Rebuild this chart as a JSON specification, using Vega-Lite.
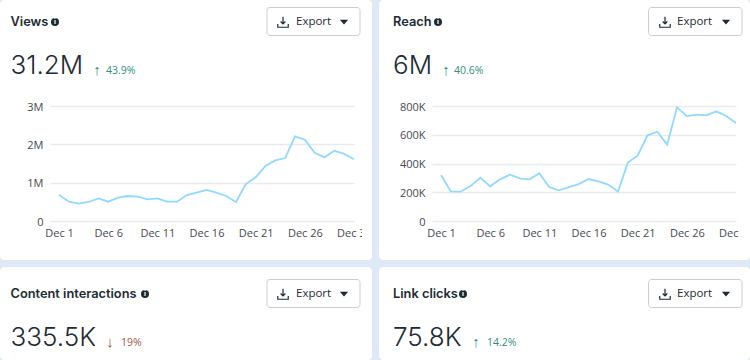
{
"$schema":"https://vega.github.io/schema/vega-lite/v6.json",
"padding":0,
"autosize":{"type":"pad"},
"background":"#dde9f7",
"config":{"view":{"stroke":null},"concat":{"spacing":7}},
"datasets":{
"views":[{"day":"2024-12-01T00:00:00","v":687000},{"day":"2024-12-02T00:00:00","v":504000},{"day":"2024-12-03T00:00:00","v":452000},{"day":"2024-12-04T00:00:00","v":496000},{"day":"2024-12-05T00:00:00","v":590000},{"day":"2024-12-06T00:00:00","v":504000},{"day":"2024-12-07T00:00:00","v":610000},{"day":"2024-12-08T00:00:00","v":652000},{"day":"2024-12-09T00:00:00","v":635000},{"day":"2024-12-10T00:00:00","v":565000},{"day":"2024-12-11T00:00:00","v":590000},{"day":"2024-12-12T00:00:00","v":504000},{"day":"2024-12-13T00:00:00","v":504000},{"day":"2024-12-14T00:00:00","v":678000},{"day":"2024-12-15T00:00:00","v":740000},{"day":"2024-12-16T00:00:00","v":809000},{"day":"2024-12-17T00:00:00","v":740000},{"day":"2024-12-18T00:00:00","v":652000},{"day":"2024-12-19T00:00:00","v":496000},{"day":"2024-12-20T00:00:00","v":965000},{"day":"2024-12-21T00:00:00","v":1140000},{"day":"2024-12-22T00:00:00","v":1435000},{"day":"2024-12-23T00:00:00","v":1580000},{"day":"2024-12-24T00:00:00","v":1643000},{"day":"2024-12-25T00:00:00","v":2210000},{"day":"2024-12-26T00:00:00","v":2120000},{"day":"2024-12-27T00:00:00","v":1780000},{"day":"2024-12-28T00:00:00","v":1660000},{"day":"2024-12-29T00:00:00","v":1835000},{"day":"2024-12-30T00:00:00","v":1750000},{"day":"2024-12-31T00:00:00","v":1610000}],
"reach":[{"day":"2024-12-01T00:00:00","v":320000},{"day":"2024-12-02T00:00:00","v":206000},{"day":"2024-12-03T00:00:00","v":204000},{"day":"2024-12-04T00:00:00","v":243000},{"day":"2024-12-05T00:00:00","v":301000},{"day":"2024-12-06T00:00:00","v":241000},{"day":"2024-12-07T00:00:00","v":290000},{"day":"2024-12-08T00:00:00","v":322000},{"day":"2024-12-09T00:00:00","v":297000},{"day":"2024-12-10T00:00:00","v":290000},{"day":"2024-12-11T00:00:00","v":332000},{"day":"2024-12-12T00:00:00","v":236000},{"day":"2024-12-13T00:00:00","v":213000},{"day":"2024-12-14T00:00:00","v":236000},{"day":"2024-12-15T00:00:00","v":257000},{"day":"2024-12-16T00:00:00","v":292000},{"day":"2024-12-17T00:00:00","v":276000},{"day":"2024-12-18T00:00:00","v":253000},{"day":"2024-12-19T00:00:00","v":204000},{"day":"2024-12-20T00:00:00","v":406000},{"day":"2024-12-21T00:00:00","v":454000},{"day":"2024-12-22T00:00:00","v":596000},{"day":"2024-12-23T00:00:00","v":621000},{"day":"2024-12-24T00:00:00","v":531000},{"day":"2024-12-25T00:00:00","v":790000},{"day":"2024-12-26T00:00:00","v":730000},{"day":"2024-12-27T00:00:00","v":740000},{"day":"2024-12-28T00:00:00","v":735000},{"day":"2024-12-29T00:00:00","v":763000},{"day":"2024-12-30T00:00:00","v":730000},{"day":"2024-12-31T00:00:00","v":682000}]
},
"vconcat":[
{"hconcat":[
{"width":372,"height":260,"view":{"fill":"#ffffff","stroke":null,"cornerRadius":4},
 "data":{"values":[{"metric":"Views","total":"31.2M","arrow":"↑","change":"43.9%","button":"Export","info":"i"}]},
 "layer":[
 {"data":{"name":"views"},"mark":{"type":"line","color":"#90d9ff","strokeWidth":1.8,"clip":false},
  "encoding":{
   "x":{"field":"day","type":"temporal","title":null,"scale":{"domain":[{"year":2024,"month":"nov","date":30,"hours":2},{"year":2024,"month":"dec","date":31}],"range":[50,354],"nice":false},
    "axis":{"values":[{"year":2024,"month":"dec","date":1},{"year":2024,"month":"dec","date":6},{"year":2024,"month":"dec","date":11},{"year":2024,"month":"dec","date":16},{"year":2024,"month":"dec","date":21},{"year":2024,"month":"dec","date":26},{"year":2024,"month":"dec","date":31}],"format":"%b %-d","grid":false,"domain":false,"ticks":false,"tickSize":0,"labelPadding":-33,"labelFont":"Open Sans","labelFontSize":11,"labelColor":"#444950","labelBound":false,"labelFlush":false,"labelOverlap":false,"labelAngle":0}},
   "y":{"field":"v","type":"quantitative","title":null,"scale":{"domain":[0,3000000],"range":[221,106],"nice":false},
    "axis":{"values":[0,1000000,2000000,3000000],"labelExpr":"datum.value==0?'0':(datum.value/1000000)+'M'","grid":true,"gridColor":"#e9eaec","gridWidth":1.4,"domain":false,"ticks":false,"tickSize":0,"labelPadding":-43,"labelOffset":1,"labelFont":"Open Sans","labelFontSize":11,"labelColor":"#444950","labelBound":false,"labelFlush":false,"labelOverlap":false}}
  }},
 {"mark":{"type":"rect","fill":"#ffffff","x":362,"x2":372,"y":224,"y2":244}},
 {"mark":{"type":"text","align":"left","baseline":"middle","x":10.5,"y":22,"font":"Inter","fontSize":12.8,"fontWeight":600,"color":"#1c2b33"},"encoding":{"text":{"field":"metric"}}},
 {"mark":{"type":"point","shape":"circle","filled":true,"opacity":1,"size":64,"x":55,"y":22,"color":"#1c2b33"}},
 {"mark":{"type":"text","align":"center","baseline":"middle","x":55,"y":22,"font":"Inter","fontSize":7,"fontWeight":700,"color":"#ffffff"},"encoding":{"text":{"field":"info"}}},
 {"mark":{"type":"rect","fill":"#ffffff","stroke":"#c9ced4","strokeWidth":1,"cornerRadius":3,"x":267,"x2":360,"y":7.5,"y2":35.5}},
 {"mark":{"type":"point","shape":"M0 -1 L0 0.3 M-0.45 -0.1 L0 0.35 L0.45 -0.1 M-1 0.4 L-1 1 L1 1 L1 0.4","filled":false,"opacity":1,"size":110,"strokeWidth":1.2,"x":283,"y":22,"color":"#1c2b33"}},
 {"mark":{"type":"text","align":"left","baseline":"middle","x":296,"y":22,"font":"Open Sans","fontSize":11.5,"color":"#1c2b33"},"encoding":{"text":{"field":"button"}}},
 {"mark":{"type":"point","shape":"M-1 -0.55 L1 -0.55 L0 0.6 Z","filled":true,"opacity":1,"size":70,"x":344,"y":22,"color":"#1c2b33"}},
 {"mark":{"type":"text","align":"left","baseline":"middle","x":10.5,"y":66,"font":"Inter","fontSize":26,"fontWeight":300,"color":"#1c2b33"},"encoding":{"text":{"field":"total"}}},
 {"mark":{"type":"text","align":"center","baseline":"middle","x":97,"y":70,"font":"Open Sans","fontSize":15,"color":"#2e8f7c"},"encoding":{"text":{"field":"arrow"}}},
 {"mark":{"type":"text","align":"left","baseline":"middle","x":106,"y":71,"font":"Open Sans","fontSize":10.5,"color":"#2e8f7c"},"encoding":{"text":{"field":"change"}}}
 ]},
{"width":371,"height":260,"view":{"fill":"#ffffff","stroke":null,"cornerRadius":4},
 "data":{"values":[{"metric":"Reach","total":"6M","arrow":"↑","change":"40.6%","button":"Export","info":"i"}]},
 "layer":[
 {"data":{"name":"reach"},"mark":{"type":"line","color":"#90d9ff","strokeWidth":1.8,"clip":false},
  "encoding":{
   "x":{"field":"day","type":"temporal","title":null,"scale":{"domain":[{"year":2024,"month":"nov","date":30,"hours":2},{"year":2024,"month":"dec","date":31}],"range":[53,357],"nice":false},
    "axis":{"values":[{"year":2024,"month":"dec","date":1},{"year":2024,"month":"dec","date":6},{"year":2024,"month":"dec","date":11},{"year":2024,"month":"dec","date":16},{"year":2024,"month":"dec","date":21},{"year":2024,"month":"dec","date":26},{"year":2024,"month":"dec","date":31}],"format":"%b %-d","grid":false,"domain":false,"ticks":false,"tickSize":0,"labelPadding":-33,"labelFont":"Open Sans","labelFontSize":11,"labelColor":"#444950","labelBound":false,"labelFlush":false,"labelOverlap":false,"labelAngle":0}},
   "y":{"field":"v","type":"quantitative","title":null,"scale":{"domain":[0,800000],"range":[221,106],"nice":false},
    "axis":{"values":[0,200000,400000,600000,800000],"labelExpr":"datum.value==0?'0':(datum.value/1000)+'K'","grid":true,"gridColor":"#e9eaec","gridWidth":1.4,"domain":false,"ticks":false,"tickSize":0,"labelPadding":-46,"labelOffset":1,"labelFont":"Open Sans","labelFontSize":11,"labelColor":"#444950","labelBound":false,"labelFlush":false,"labelOverlap":false}}
  }},
 {"mark":{"type":"rect","fill":"#ffffff","x":363,"x2":371,"y":224,"y2":244}},
 {"mark":{"type":"text","align":"left","baseline":"middle","x":14,"y":22,"font":"Inter","fontSize":12.8,"fontWeight":600,"color":"#1c2b33"},"encoding":{"text":{"field":"metric"}}},
 {"mark":{"type":"point","shape":"circle","filled":true,"opacity":1,"size":64,"x":59,"y":22,"color":"#1c2b33"}},
 {"mark":{"type":"text","align":"center","baseline":"middle","x":59,"y":22,"font":"Inter","fontSize":7,"fontWeight":700,"color":"#ffffff"},"encoding":{"text":{"field":"info"}}},
 {"mark":{"type":"rect","fill":"#ffffff","stroke":"#c9ced4","strokeWidth":1,"cornerRadius":3,"x":269.5,"x2":363,"y":7.5,"y2":35.5}},
 {"mark":{"type":"point","shape":"M0 -1 L0 0.3 M-0.45 -0.1 L0 0.35 L0.45 -0.1 M-1 0.4 L-1 1 L1 1 L1 0.4","filled":false,"opacity":1,"size":110,"strokeWidth":1.2,"x":286,"y":22,"color":"#1c2b33"}},
 {"mark":{"type":"text","align":"left","baseline":"middle","x":298,"y":22,"font":"Open Sans","fontSize":11.5,"color":"#1c2b33"},"encoding":{"text":{"field":"button"}}},
 {"mark":{"type":"point","shape":"M-1 -0.55 L1 -0.55 L0 0.6 Z","filled":true,"opacity":1,"size":70,"x":347,"y":22,"color":"#1c2b33"}},
 {"mark":{"type":"text","align":"left","baseline":"middle","x":14,"y":66,"font":"Inter","fontSize":26,"fontWeight":300,"color":"#1c2b33"},"encoding":{"text":{"field":"total"}}},
 {"mark":{"type":"text","align":"center","baseline":"middle","x":67,"y":70,"font":"Open Sans","fontSize":15,"color":"#2e8f7c"},"encoding":{"text":{"field":"arrow"}}},
 {"mark":{"type":"text","align":"left","baseline":"middle","x":75,"y":71,"font":"Open Sans","fontSize":10.5,"color":"#2e8f7c"},"encoding":{"text":{"field":"change"}}}
 ]}
]},
{"hconcat":[
{"width":372,"height":93,"view":{"fill":"#ffffff","stroke":null,"cornerRadius":4},
 "data":{"values":[{"metric":"Content interactions","total":"335.5K","arrow":"↓","change":"19%","button":"Export","info":"i"}]},
 "layer":[
 {"mark":{"type":"text","align":"left","baseline":"middle","x":10.5,"y":27,"font":"Inter","fontSize":12.8,"fontWeight":600,"color":"#1c2b33"},"encoding":{"text":{"field":"metric"}}},
 {"mark":{"type":"point","shape":"circle","filled":true,"opacity":1,"size":64,"x":145,"y":27,"color":"#1c2b33"}},
 {"mark":{"type":"text","align":"center","baseline":"middle","x":145,"y":27,"font":"Inter","fontSize":7,"fontWeight":700,"color":"#ffffff"},"encoding":{"text":{"field":"info"}}},
 {"mark":{"type":"rect","fill":"#ffffff","stroke":"#c9ced4","strokeWidth":1,"cornerRadius":3,"x":267,"x2":360,"y":12.5,"y2":40.5}},
 {"mark":{"type":"point","shape":"M0 -1 L0 0.3 M-0.45 -0.1 L0 0.35 L0.45 -0.1 M-1 0.4 L-1 1 L1 1 L1 0.4","filled":false,"opacity":1,"size":110,"strokeWidth":1.2,"x":283,"y":27,"color":"#1c2b33"}},
 {"mark":{"type":"text","align":"left","baseline":"middle","x":296,"y":27,"font":"Open Sans","fontSize":11.5,"color":"#1c2b33"},"encoding":{"text":{"field":"button"}}},
 {"mark":{"type":"point","shape":"M-1 -0.55 L1 -0.55 L0 0.6 Z","filled":true,"opacity":1,"size":70,"x":344,"y":27,"color":"#1c2b33"}},
 {"mark":{"type":"text","align":"left","baseline":"middle","x":10.5,"y":71,"font":"Inter","fontSize":26,"fontWeight":300,"color":"#1c2b33"},"encoding":{"text":{"field":"total"}}},
 {"mark":{"type":"text","align":"center","baseline":"middle","x":110,"y":75,"font":"Open Sans","fontSize":15,"color":"#a0553f"},"encoding":{"text":{"field":"arrow"}}},
 {"mark":{"type":"text","align":"left","baseline":"middle","x":121,"y":76,"font":"Open Sans","fontSize":10.5,"color":"#a0553f"},"encoding":{"text":{"field":"change"}}}
 ]},
{"width":371,"height":93,"view":{"fill":"#ffffff","stroke":null,"cornerRadius":4},
 "data":{"values":[{"metric":"Link clicks","total":"75.8K","arrow":"↑","change":"14.2%","button":"Export","info":"i"}]},
 "layer":[
 {"mark":{"type":"text","align":"left","baseline":"middle","x":14,"y":27,"font":"Inter","fontSize":12.8,"fontWeight":600,"color":"#1c2b33"},"encoding":{"text":{"field":"metric"}}},
 {"mark":{"type":"point","shape":"circle","filled":true,"opacity":1,"size":64,"x":84,"y":27,"color":"#1c2b33"}},
 {"mark":{"type":"text","align":"center","baseline":"middle","x":84,"y":27,"font":"Inter","fontSize":7,"fontWeight":700,"color":"#ffffff"},"encoding":{"text":{"field":"info"}}},
 {"mark":{"type":"rect","fill":"#ffffff","stroke":"#c9ced4","strokeWidth":1,"cornerRadius":3,"x":269.5,"x2":363,"y":12.5,"y2":40.5}},
 {"mark":{"type":"point","shape":"M0 -1 L0 0.3 M-0.45 -0.1 L0 0.35 L0.45 -0.1 M-1 0.4 L-1 1 L1 1 L1 0.4","filled":false,"opacity":1,"size":110,"strokeWidth":1.2,"x":286,"y":27,"color":"#1c2b33"}},
 {"mark":{"type":"text","align":"left","baseline":"middle","x":298,"y":27,"font":"Open Sans","fontSize":11.5,"color":"#1c2b33"},"encoding":{"text":{"field":"button"}}},
 {"mark":{"type":"point","shape":"M-1 -0.55 L1 -0.55 L0 0.6 Z","filled":true,"opacity":1,"size":70,"x":347,"y":27,"color":"#1c2b33"}},
 {"mark":{"type":"text","align":"left","baseline":"middle","x":14,"y":71,"font":"Inter","fontSize":26,"fontWeight":300,"color":"#1c2b33"},"encoding":{"text":{"field":"total"}}},
 {"mark":{"type":"text","align":"center","baseline":"middle","x":97,"y":75,"font":"Open Sans","fontSize":15,"color":"#2e8f7c"},"encoding":{"text":{"field":"arrow"}}},
 {"mark":{"type":"text","align":"left","baseline":"middle","x":108,"y":76,"font":"Open Sans","fontSize":10.5,"color":"#2e8f7c"},"encoding":{"text":{"field":"change"}}}
 ]}
]}
]}
